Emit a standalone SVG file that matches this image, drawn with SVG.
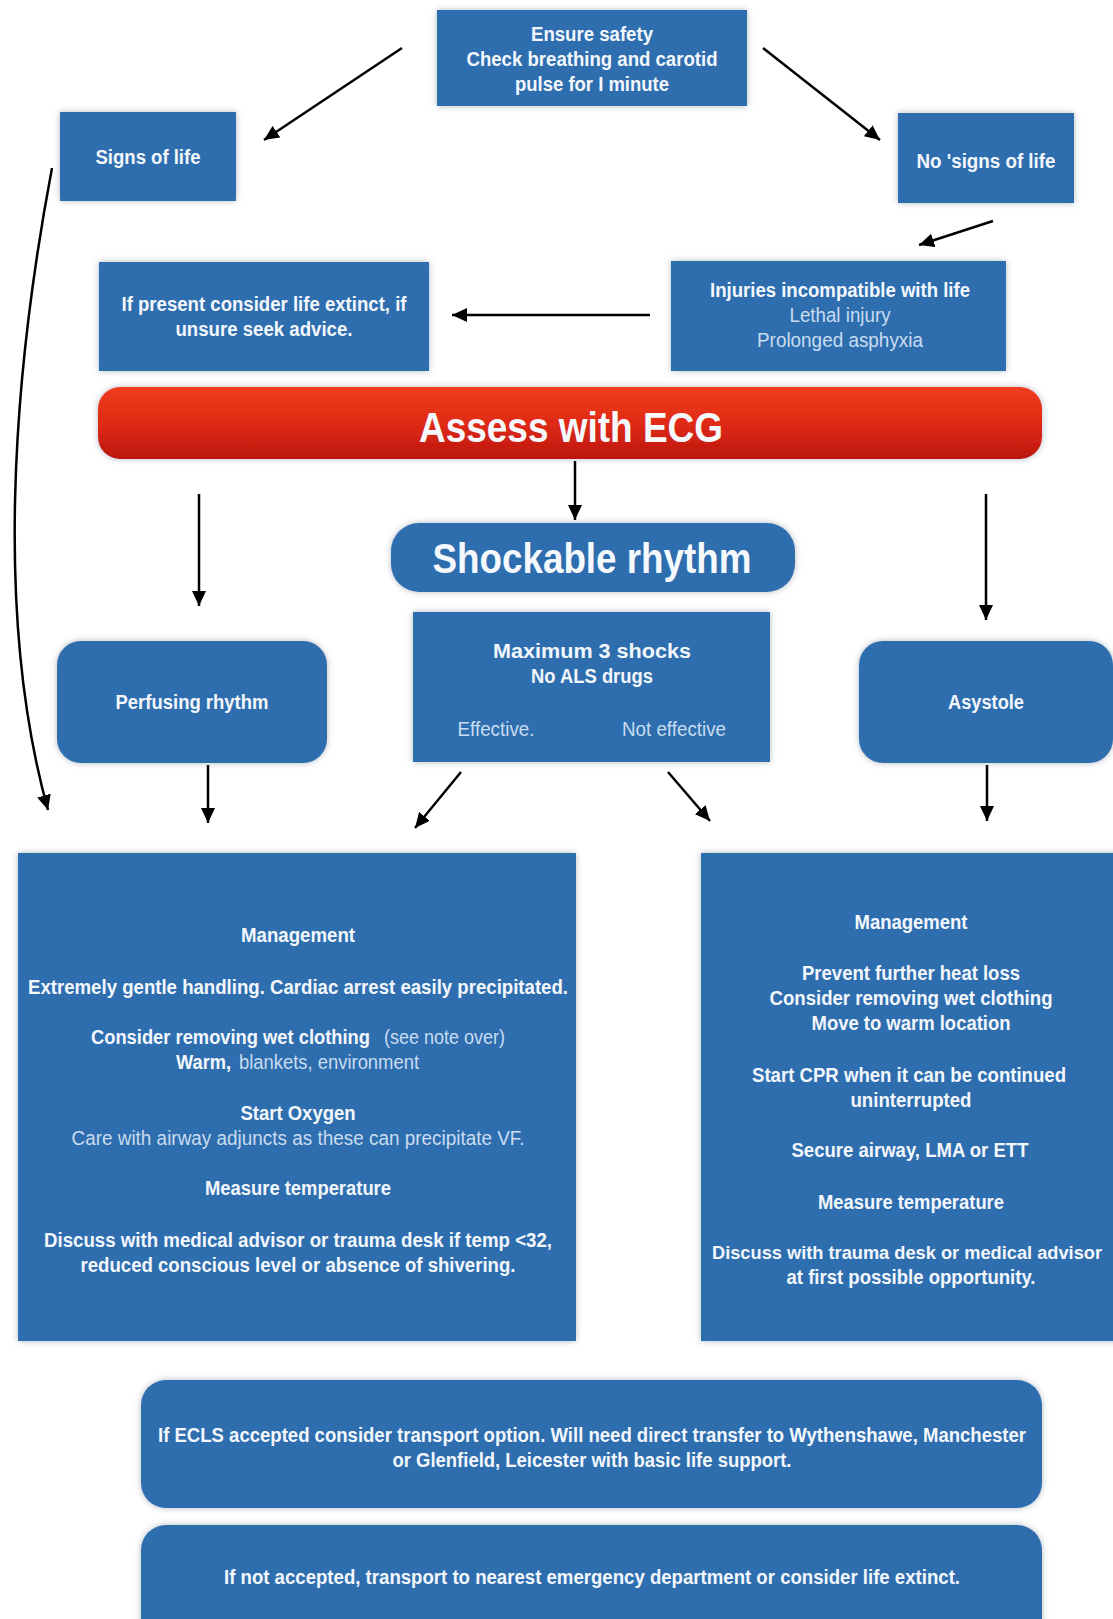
<svg xmlns="http://www.w3.org/2000/svg" width="1113" height="1619" viewBox="0 0 1113 1619">
<defs>
<style>
.box{fill:#2e6eaf;filter:url(#sh)}
.t{font-family:"Liberation Sans",Arial,sans-serif;font-weight:700;font-size:20px;fill:#f3f7fc;text-anchor:middle}
.l{font-family:"Liberation Sans",Arial,sans-serif;font-weight:400;font-size:20px;fill:#c9dcf0;text-anchor:middle}
.big{font-family:"Liberation Sans",Arial,sans-serif;font-weight:700;font-size:42px;fill:#f6f9fc;text-anchor:middle}
.s{text-anchor:start}
.c{fill:none;stroke:#000;stroke-width:2.5;marker-end:url(#ah)}
</style>
<filter id="sh" x="-10%" y="-10%" width="120%" height="120%">
<feDropShadow dx="0" dy="0" stdDeviation="3" flood-color="#6f7f90" flood-opacity="0.55"/>
</filter>
<linearGradient id="red" x1="0" y1="0" x2="0" y2="1">
<stop offset="0" stop-color="#f03c1e"/>
<stop offset="0.5" stop-color="#e02a15"/>
<stop offset="1" stop-color="#bb170f"/>
</linearGradient>
<marker id="ah" markerUnits="userSpaceOnUse" markerWidth="16" markerHeight="14" refX="15" refY="7" orient="auto">
<path d="M0,0 L15,7 L0,14 z" fill="#000"/>
</marker>
</defs>
<rect width="1113" height="1619" fill="#ffffff"/>

<g id="connectors">
<line class="c" x1="402" y1="48" x2="264" y2="140"/>
<line class="c" x1="763" y1="48" x2="880" y2="140"/>
<line class="c" x1="993" y1="221" x2="919" y2="245"/>
<line class="c" x1="650" y1="315" x2="452" y2="315"/>
<line class="c" x1="575" y1="461" x2="575" y2="520"/>
<line class="c" x1="199" y1="494" x2="199" y2="606"/>
<line class="c" x1="986" y1="494" x2="986" y2="620"/>
<line class="c" x1="208" y1="765" x2="208" y2="823"/>
<line class="c" x1="461" y1="772" x2="415" y2="828"/>
<line class="c" x1="668" y1="772" x2="710" y2="821"/>
<line class="c" x1="987" y1="765" x2="987" y2="821"/>
<path class="c" d="M52,168 C12,380 -5,620 48,810" stroke-width="2"/>
</g>

<g id="n-start">
<rect class="box" x="437" y="10" width="310" height="96"/>
<text class="t" x="592" y="41" textLength="122" lengthAdjust="spacingAndGlyphs">Ensure safety</text>
<text class="t" x="592" y="66" textLength="251" lengthAdjust="spacingAndGlyphs">Check breathing and carotid</text>
<text class="t" x="592" y="91" textLength="154" lengthAdjust="spacingAndGlyphs">pulse for I minute</text>
</g>

<g id="n-signs">
<rect class="box" x="60" y="112" width="176" height="89"/>
<text class="t" x="148" y="164" textLength="105" lengthAdjust="spacingAndGlyphs">Signs of life</text>
</g>

<g id="n-nosigns">
<rect class="box" x="898" y="113" width="176" height="90"/>
<text class="t" x="986" y="168" textLength="139" lengthAdjust="spacingAndGlyphs">No 'signs of life</text>
</g>

<g id="n-injuries">
<rect class="box" x="671" y="261" width="335" height="110"/>
<text class="t" x="840" y="297" textLength="260" lengthAdjust="spacingAndGlyphs">Injuries incompatible with life</text>
<text class="l" x="840" y="322" textLength="101" lengthAdjust="spacingAndGlyphs">Lethal injury</text>
<text class="l" x="840" y="347" textLength="166" lengthAdjust="spacingAndGlyphs">Prolonged asphyxia</text>
</g>

<g id="n-ifpresent">
<rect class="box" x="99" y="262" width="330" height="109"/>
<text class="t" x="264" y="311" textLength="285" lengthAdjust="spacingAndGlyphs">If present consider life extinct, if</text>
<text class="t" x="264" y="336" textLength="177" lengthAdjust="spacingAndGlyphs">unsure seek advice.</text>
</g>

<g id="n-ecg">
<rect x="98" y="387" width="944" height="72" rx="22" fill="url(#red)" filter="url(#sh)"/>
<text class="big" x="571" y="442" textLength="304" lengthAdjust="spacingAndGlyphs">Assess with ECG</text>
</g>

<g id="n-shockable">
<rect class="box" x="391" y="523" width="404" height="69" rx="28"/>
<text class="big" x="592" y="573" textLength="319" lengthAdjust="spacingAndGlyphs">Shockable rhythm</text>
</g>

<g id="n-max">
<rect class="box" x="413" y="612" width="357" height="150"/>
<text class="t" x="592" y="658" textLength="198" lengthAdjust="spacingAndGlyphs">Maximum 3 shocks</text>
<text class="t" x="592" y="683" textLength="122" lengthAdjust="spacingAndGlyphs">No ALS drugs</text>
<text class="l" x="496" y="736" textLength="77" lengthAdjust="spacingAndGlyphs">Effective.</text>
<text class="l" x="674" y="736" textLength="104" lengthAdjust="spacingAndGlyphs">Not effective</text>
</g>

<g id="n-perfusing">
<rect class="box" x="57" y="641" width="270" height="122" rx="24"/>
<text class="t" x="192" y="709" textLength="153" lengthAdjust="spacingAndGlyphs">Perfusing rhythm</text>
</g>

<g id="n-asystole">
<rect class="box" x="859" y="641" width="254" height="122" rx="24"/>
<text class="t" x="986" y="709" textLength="76" lengthAdjust="spacingAndGlyphs">Asystole</text>
</g>

<g id="n-mgmt-left">
<rect class="box" x="18" y="853" width="558" height="488"/>
<text class="t" x="298" y="942" textLength="114" lengthAdjust="spacingAndGlyphs">Management</text>
<text class="t" x="298" y="994" textLength="540" lengthAdjust="spacingAndGlyphs">Extremely gentle handling. Cardiac arrest easily precipitated.</text>
<text class="t s" x="91" y="1044" textLength="279" lengthAdjust="spacingAndGlyphs">Consider removing wet clothing</text>
<text class="l s" x="384" y="1044" textLength="121" lengthAdjust="spacingAndGlyphs">(see note over)</text>
<text class="t s" x="176" y="1069" textLength="55" lengthAdjust="spacingAndGlyphs">Warm,</text>
<text class="l s" x="239" y="1069" textLength="180" lengthAdjust="spacingAndGlyphs">blankets, environment</text>
<text class="t" x="298" y="1120" textLength="115" lengthAdjust="spacingAndGlyphs">Start Oxygen</text>
<text class="l" x="298" y="1145" textLength="453" lengthAdjust="spacingAndGlyphs">Care with airway adjuncts as these can precipitate VF.</text>
<text class="t" x="298" y="1195" textLength="186" lengthAdjust="spacingAndGlyphs">Measure temperature</text>
<text class="t" x="298" y="1247" textLength="508" lengthAdjust="spacingAndGlyphs">Discuss with medical advisor or trauma desk if temp &lt;32,</text>
<text class="t" x="298" y="1272" textLength="435" lengthAdjust="spacingAndGlyphs">reduced conscious level or absence of shivering.</text>
</g>

<g id="n-mgmt-right">
<rect class="box" x="701" y="853" width="420" height="488"/>
<text class="t" x="911" y="929" textLength="113" lengthAdjust="spacingAndGlyphs">Management</text>
<text class="t" x="911" y="980" textLength="218" lengthAdjust="spacingAndGlyphs">Prevent further heat loss</text>
<text class="t" x="911" y="1005" textLength="283" lengthAdjust="spacingAndGlyphs">Consider removing wet clothing</text>
<text class="t" x="911" y="1030" textLength="199" lengthAdjust="spacingAndGlyphs">Move to warm location</text>
<text class="t" x="909" y="1082" textLength="314" lengthAdjust="spacingAndGlyphs">Start CPR when it can be continued</text>
<text class="t" x="911" y="1107" textLength="121" lengthAdjust="spacingAndGlyphs">uninterrupted</text>
<text class="t" x="910" y="1157" textLength="237" lengthAdjust="spacingAndGlyphs">Secure airway, LMA or ETT</text>
<text class="t" x="911" y="1209" textLength="186" lengthAdjust="spacingAndGlyphs">Measure temperature</text>
<text class="t" x="907" y="1259" textLength="390" lengthAdjust="spacingAndGlyphs" style="font-size:18px">Discuss with trauma desk or medical advisor</text>
<text class="t" x="911" y="1284" textLength="249" lengthAdjust="spacingAndGlyphs">at first possible opportunity.</text>
</g>

<g id="n-ecls">
<rect class="box" x="141" y="1380" width="901" height="128" rx="25"/>
<text class="t" x="592" y="1442" textLength="868" lengthAdjust="spacingAndGlyphs">If ECLS accepted consider transport option. Will need direct transfer to Wythenshawe, Manchester</text>
<text class="t" x="592" y="1467" textLength="399" lengthAdjust="spacingAndGlyphs">or Glenfield, Leicester with basic life support.</text>
</g>

<g id="n-notaccepted">
<rect class="box" x="141" y="1525" width="901" height="120" rx="25"/>
<text class="t" x="592" y="1584" textLength="736" lengthAdjust="spacingAndGlyphs">If not accepted, transport to nearest emergency department or consider life extinct.</text>
</g>
</svg>
